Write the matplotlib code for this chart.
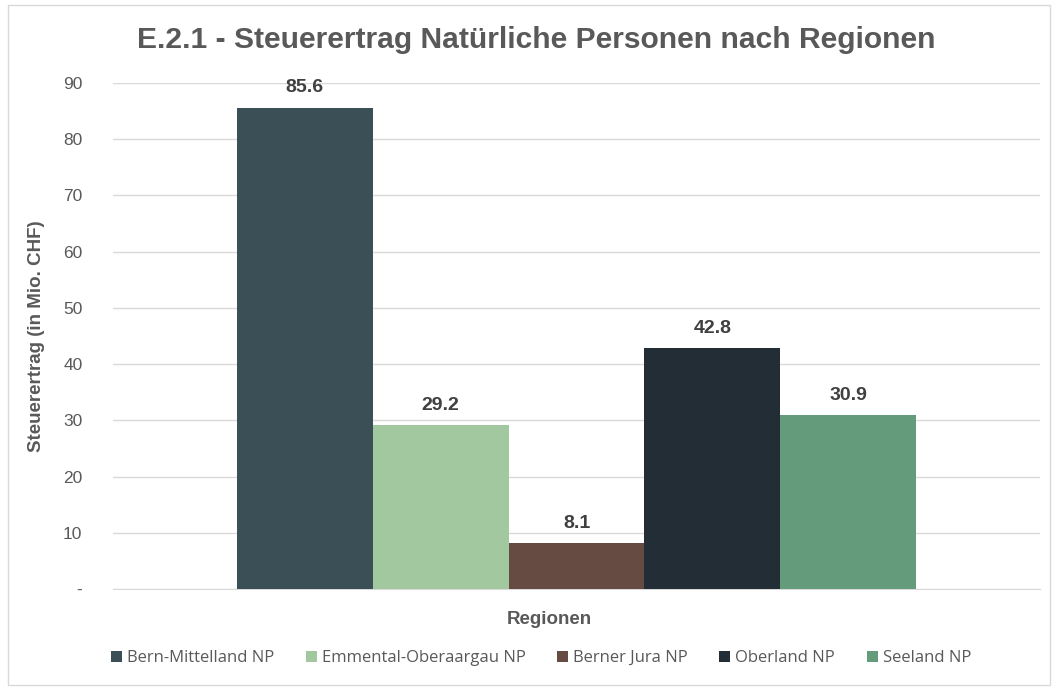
import matplotlib
matplotlib.use("Agg")
import matplotlib.pyplot as plt
from matplotlib.patches import Rectangle

regions = ["Bern-Mittelland NP", "Emmental-Oberaargau NP", "Berner Jura NP", "Oberland NP", "Seeland NP"]
values = [85.6, 29.2, 8.1, 42.8, 30.9]
colors = ["#3B4F57", "#A2C8A0", "#654B42", "#232D35", "#639B7B"]
yticks = [0, 10, 20, 30, 40, 50, 60, 70, 80, 90]
ytick_labels = ["-", "10", "20", "30", "40", "50", "60", "70", "80", "90"]

plt.rcParams["font.family"] = ["Liberation Sans", "DejaVu Sans"]

W, H = 1053, 687
fig = plt.figure(figsize=(W / 100, H / 100), dpi=100)
ax = fig.add_axes([113 / W, 1 - 589 / H, (1040 - 113) / W, (589 - 83) / H])

bw = 0.1467
n = len(values)
handles = []
for i, (lab, v, c) in enumerate(zip(regions, values, colors)):
    x = (i - (n - 1) / 2) * bw
    b = ax.bar(x, v, width=bw, color=c, label=lab, zorder=3)
    handles.append(b)
    ax.text(x, v + 2.0, f"{v:.1f}", ha="center", va="bottom", fontsize=14,
            fontweight="bold", color="#404040")

ax.set_xlim(-0.5, 0.5)
ax.set_ylim(0, 90)
ax.set_yticks(yticks)
ax.set_yticklabels(ytick_labels, fontsize=12.5, color="#595959")
ax.set_xticks([])
ax.tick_params(axis="y", length=0, pad=22)
ax.grid(axis="y", color="#D9D9D9", linewidth=1, zorder=0)
for s in ["top", "right", "left"]:
    ax.spines[s].set_visible(False)
ax.spines["bottom"].set_color("#D9D9D9")

ax.set_ylabel("Steuerertrag (in Mio. CHF)", fontsize=13.5, fontweight="bold", color="#595959")
ax.yaxis.set_label_coords((45 - 113) / (1040 - 113), 0.5)
fig.text(549 / W, 1 - 620 / H, "Regionen", ha="center", va="center", fontsize=13.5,
         fontweight="bold", color="#595959")
fig.text(536 / W, 1 - 40 / H, "E.2.1 - Steuerertrag Natürliche Personen nach Regionen",
         ha="center", va="center", fontsize=21.6, fontweight="bold", color="#595959")

leg = fig.legend(handles=handles, labels=regions, loc="center", bbox_to_anchor=(541 / W, 1 - 658 / H),
                 ncol=5, frameon=False, prop={"family": "Open Sans", "size": 12},
                 handlelength=0.65, handleheight=0.65, handletextpad=0.3, columnspacing=1.9,
                 labelcolor="#595959")

fig.patches.append(Rectangle((8 / W, 2 / H), (1050 - 8) / W, (682 - 2) / H, transform=fig.transFigure,
                             fill=False, edgecolor="#D9D9D9", linewidth=1))

fig.savefig("out.png", dpi=100)
